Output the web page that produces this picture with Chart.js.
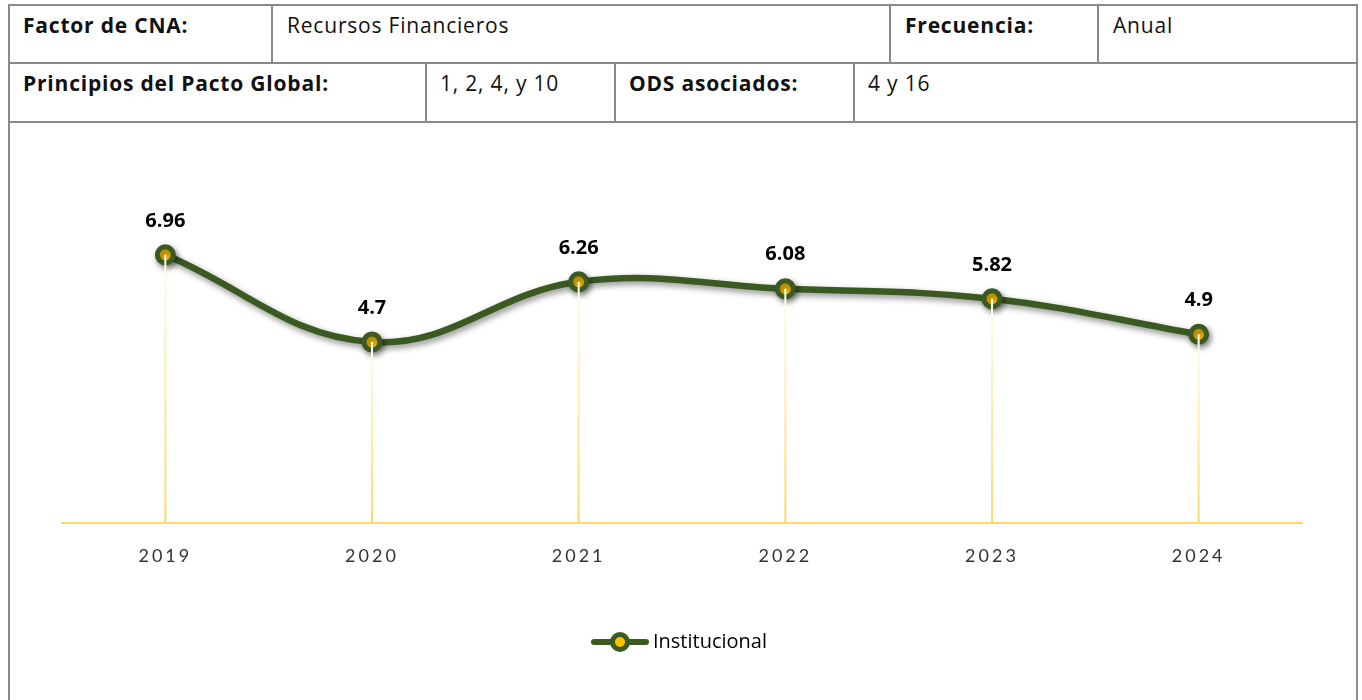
<!DOCTYPE html>
<html lang="es">
<head>
<meta charset="utf-8">
<title>Recursos Financieros</title>
<script src="https://cdn.jsdelivr.net/npm/chart.js@4.4.1/dist/chart.umd.min.js"></script>
<style>
  html, body { margin: 0; padding: 0; background: #fff; overflow: hidden; }
  body { width: 1362px; height: 700px; position: relative; font-family: "Open Sans", "Lato", sans-serif; color: #111; }
  .line { position: absolute; background: #8a8a8a; }
  .cell { position: absolute; font-size: 21px; line-height: 24px; letter-spacing: 0.8px; white-space: nowrap; }
  .cell.b { font-weight: bold; }
  #wrap { position: absolute; left: 10px; top: 124px; width: 1346px; height: 576px; }
</style>
</head>
<body>
<!-- table rules -->
<div class="line" style="left:8px; top:4px; width:1350px; height:2px;"></div>
<div class="line" style="left:8px; top:62px; width:1350px; height:2px;"></div>
<div class="line" style="left:8px; top:121px; width:1350px; height:2px;"></div>
<div class="line" style="left:8px; top:4px; width:2px; height:700px;"></div>
<div class="line" style="left:1356px; top:4px; width:2px; height:700px;"></div>
<div class="line" style="left:271px; top:4px; width:2px; height:59px;"></div>
<div class="line" style="left:889px; top:4px; width:2px; height:59px;"></div>
<div class="line" style="left:1097px; top:4px; width:2px; height:59px;"></div>
<div class="line" style="left:425px; top:63px; width:2px; height:59px;"></div>
<div class="line" style="left:614px; top:63px; width:2px; height:59px;"></div>
<div class="line" style="left:853px; top:63px; width:2px; height:59px;"></div>

<div class="cell b" style="left:23px; top:13px;">Factor de CNA:</div>
<div class="cell" style="left:287px; top:13px;">Recursos Financieros</div>
<div class="cell b" style="left:905px; top:13px;">Frecuencia:</div>
<div class="cell" style="left:1113px; top:13px;">Anual</div>
<div class="cell b" style="left:23px; top:71px;">Principios del Pacto Global:</div>
<div class="cell" style="left:440px; top:71px;">1, 2, 4, y 10</div>
<div class="cell b" style="left:629px; top:71px;">ODS asociados:</div>
<div class="cell" style="left:868px; top:71px;">4 y 16</div>

<div id="wrap"><canvas id="lineChart"></canvas></div>

<script>
const years = ['2019', '2020', '2021', '2022', '2023', '2024'];
const institucional = [6.96, 4.7, 6.26, 6.08, 5.82, 4.9];
const seriesName = 'Institucional';

const green = '#3a5a22';
const gold = '#ffc000';
const paleGold = '#ffd966';

// legend marker: thick line with a ringed dot
const marker = document.createElement('canvas');
marker.width = 60;
marker.height = 22;
const mc = marker.getContext('2d');
mc.strokeStyle = green;
mc.lineWidth = 6;
mc.lineCap = 'round';
mc.beginPath();
mc.moveTo(4, 11);
mc.lineTo(56, 11);
mc.stroke();
mc.beginPath();
mc.arc(30, 11, 7.5, 0, Math.PI * 2);
mc.fillStyle = gold;
mc.fill();
mc.lineWidth = 5;
mc.stroke();

// soft drop shadow under the line
const shadow = {
    id: 'shadow',
    beforeDatasetDraw(chart) {
        const ctx = chart.ctx;
        ctx.save();
        ctx.shadowColor = 'rgba(0,0,0,0.45)';
        ctx.shadowBlur = 6;
        ctx.shadowOffsetX = 2;
        ctx.shadowOffsetY = 3;
    },
    afterDatasetDraw(chart) { chart.ctx.restore(); }
};

// drop lines from each point to the axis, plus the value labels
const dropLines = {
    id: 'dropLines',
    afterDatasetsDraw(chart) {
        const ctx = chart.ctx;
        const base = chart.scales.y.getPixelForValue(0);
        const meta = chart.getDatasetMeta(0);
        ctx.save();
        meta.data.forEach((pt, i) => {
            const g = ctx.createLinearGradient(0, pt.y, 0, base);
            g.addColorStop(0, '#fffdf3');
            g.addColorStop(1, paleGold);
            ctx.strokeStyle = g;
            ctx.lineWidth = 2;
            ctx.beginPath();
            ctx.moveTo(pt.x, pt.y);
            ctx.lineTo(pt.x, base);
            ctx.stroke();

            ctx.fillStyle = '#000';
            ctx.font = 'bold 20px "Open Sans"';
            ctx.textAlign = 'center';
            ctx.textBaseline = 'middle';
            ctx.fillText(String(institucional[i]), pt.x, pt.y - 34);
        });
        ctx.restore();
        // x tick labels (ticks.z = 1) come next and are spaced out
        ctx.letterSpacing = '3px';
    },
    afterDraw(chart) { chart.ctx.letterSpacing = '0px'; }
};

new Chart(document.getElementById('lineChart'), {
    type: 'line',
    data: {
        labels: years,
        datasets: [{
            label: seriesName,
            data: institucional,
            borderColor: green,
            borderWidth: 6.5,
            tension: 0.4,
            pointRadius: 8,
            pointBorderWidth: 5,
            pointBackgroundColor: gold,
            pointBorderColor: green,
            clip: false
        }]
    },
    options: {
        responsive: true,
        maintainAspectRatio: false,
        animation: false,
        layout: {
            padding: { left: 52, right: 54, top: 110, bottom: 38 }
        },
        scales: {
            x: {
                offset: true,
                grid: { display: false, drawTicks: false },
                border: { display: true, color: paleGold, width: 2 },
                ticks: {
                    z: 1,
                    color: '#333',
                    padding: 22,
                    font: { family: 'Lato', size: 18 }
                }
            },
            y: {
                display: false,
                min: 0,
                max: 7.5
            }
        },
        plugins: {
            legend: {
                position: 'bottom',
                labels: {
                    usePointStyle: true,
                    pointStyleWidth: 46,
                    color: '#111',
                    padding: 43,
                    font: { family: 'Open Sans', size: 20 },
                    generateLabels: (chart) => [{
                        text: seriesName,
                        pointStyle: marker,
                        fillStyle: gold,
                        strokeStyle: green,
                        lineWidth: 0,
                        datasetIndex: 0
                    }]
                }
            },
            tooltip: { enabled: false }
        }
    },
    plugins: [shadow, dropLines]
});
</script>
</body>
</html>
